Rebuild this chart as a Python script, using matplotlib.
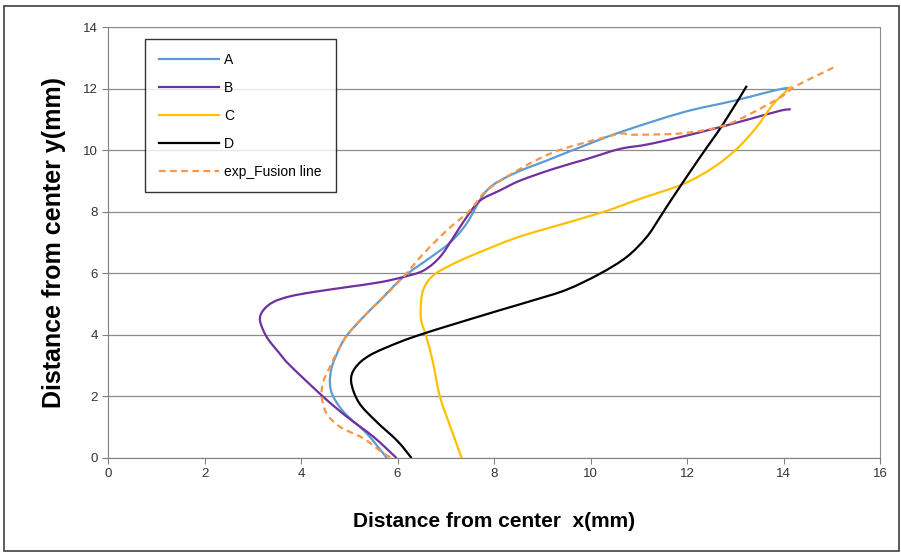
import matplotlib.pyplot as plt
from matplotlib.patches import Rectangle, PathPatch
from matplotlib.path import Path
from matplotlib.lines import Line2D

# series (x, y in mm)
a_x = [5.78, 5.36, 4.91, 4.67, 4.60, 4.64, 4.81, 4.98, 5.36, 5.64, 6.12, 6.67, 7.09, 7.43, 7.85, 8.40,
       9.09, 9.78, 10.61, 11.92, 12.96, 13.93, 14.15]
a_y = [0.0, 0.80, 1.45, 1.99, 2.42, 2.96, 3.61, 4.04, 4.69, 5.12, 5.88, 6.50, 7.00, 7.61, 8.69, 9.23,
       9.66, 10.09, 10.58, 11.23, 11.60, 11.98, 12.0]

b_x = [5.98, 5.50, 4.95, 4.46, 3.77, 3.56, 3.29, 3.15, 3.22, 3.43, 3.77, 4.25, 4.95, 5.64, 6.12, 6.54,
       6.88, 7.16, 7.43, 7.71, 8.12, 8.54, 9.23, 9.92, 10.61, 11.23, 12.27, 13.30, 13.93, 14.15]
b_y = [0.0, 0.69, 1.34, 1.99, 3.01, 3.39, 3.93, 4.47, 4.80, 5.07, 5.25, 5.39, 5.55, 5.71, 5.88, 6.09,
       6.53, 7.17, 7.82, 8.36, 8.69, 9.01, 9.39, 9.71, 10.04, 10.20, 10.58, 11.01, 11.28, 11.33]

c_x = [7.33, 7.12, 6.88, 6.74, 6.60, 6.50, 6.48, 6.53, 6.74, 7.16, 7.71, 8.40, 8.95, 10.20, 11.03,
       11.92, 12.55, 13.03, 13.44, 13.79, 14.17]
c_y = [0.0, 0.91, 1.99, 3.07, 3.93, 4.40, 4.80, 5.45, 5.93, 6.31, 6.69, 7.12, 7.39, 7.96, 8.42,
       8.90, 9.44, 10.04, 10.74, 11.50, 12.08]

d_x = [6.29, 6.00, 5.55, 5.20, 5.04, 5.12, 5.43, 6.05, 6.54, 7.09, 8.12, 8.81, 9.51, 10.20, 10.75,
       11.16, 11.44, 11.70, 12.27, 12.75, 13.24]
d_y = [0.0, 0.55, 1.20, 1.80, 2.47, 2.92, 3.34, 3.77, 4.04, 4.31, 4.80, 5.12, 5.47, 5.99, 6.53,
       7.17, 7.82, 8.45, 9.77, 10.85, 12.09]

exp_x = [5.85, 5.71, 5.29, 4.81, 4.53, 4.43, 4.46, 4.60, 4.77, 4.98, 5.36, 5.64, 6.12, 6.54, 7.02,
         7.50, 7.85, 8.54, 9.23, 9.92, 10.61, 10.89, 11.92, 12.75, 13.30, 13.93, 14.27, 15.03]
exp_y = [0.03, 0.15, 0.64, 1.01, 1.45, 1.99, 2.47, 2.96, 3.50, 4.04, 4.69, 5.12, 5.88, 6.64, 7.39,
         8.04, 8.69, 9.39, 9.93, 10.26, 10.53, 10.50, 10.55, 10.79, 11.17, 11.71, 12.09, 12.68]

labels = ['A', 'B', 'C', 'D', 'exp_Fusion line']
x_ticks = [0, 2, 4, 6, 8, 10, 12, 14, 16]
y_ticks = [0, 2, 4, 6, 8, 10, 12, 14]


def smooth_path(xs, ys):
    # Excel-style smoothed line: cubic bezier segments through every point
    pts = list(zip(xs, ys))
    verts = [pts[0]]
    codes = [Path.MOVETO]
    n = len(pts)
    for i in range(n - 1):
        p0 = pts[i - 1] if i > 0 else pts[i]
        p1 = pts[i]
        p2 = pts[i + 1]
        p3 = pts[i + 2] if i + 2 < n else pts[i + 1]
        c1 = (p1[0] + (p2[0] - p0[0]) / 6, p1[1] + (p2[1] - p0[1]) / 6)
        c2 = (p2[0] - (p3[0] - p1[0]) / 6, p2[1] - (p3[1] - p1[1]) / 6)
        verts += [c1, c2, p2]
        codes += [Path.CURVE4] * 3
    return Path(verts, codes)


plt.rcParams['font.family'] = ['Liberation Sans', 'DejaVu Sans']

fig = plt.figure(figsize=(9.01, 5.56), dpi=100)
# outer chart border
fig.patches.append(Rectangle((0.004, 0.009), 0.994, 0.981, transform=fig.transFigure,
                             fill=False, edgecolor='#404040', linewidth=1.2))

ax = fig.add_axes([108 / 901, 98 / 556, 772 / 901, 431 / 556])

series = [
    (a_x, a_y, '#5B9BD5', '-'),
    (b_x, b_y, '#7030A0', '-'),
    (c_x, c_y, '#FFC000', '-'),
    (d_x, d_y, 'black', '-'),
    (exp_x, exp_y, '#F79646', (0, (3, 2))),
]
handles = []
for (xs, ys, col, ls), lab in zip(series, labels):
    ax.add_patch(PathPatch(smooth_path(xs, ys), facecolor='none', edgecolor=col, lw=1.6,
                           linestyle=ls, capstyle='butt'))
    handles.append(Line2D([0], [0], color=col, lw=1.6, linestyle=ls, label=lab))

ax.set_xlim(0, 16)
ax.set_ylim(0, 14)
ax.set_xticks(x_ticks)
ax.set_yticks(y_ticks)
ax.tick_params(direction='out', length=4, width=0.8, color='#808080', labelsize=9.5,
               labelcolor='#333333')
ax.yaxis.grid(True, color='#8C8C8C', lw=0.9)
ax.set_axisbelow(True)
for side in ['top', 'right']:
    ax.spines[side].set_color('#8C8C8C')
ax.spines['left'].set_color('#808080')
ax.spines['bottom'].set_color('#808080')

ax.set_xlabel('Distance from center  x(mm)', fontsize=15, fontweight='bold', labelpad=23)
ax.set_ylabel('Distance from center y(mm)', fontsize=18, fontweight='bold', labelpad=12)

leg = ax.legend(handles=handles, loc='upper left', bbox_to_anchor=(0.048, 0.972), fontsize=10,
                frameon=True, fancybox=False, edgecolor='black', handlelength=4.3,
                labelspacing=1.0, borderpad=1.0, handletextpad=0.4, borderaxespad=0)
leg.get_frame().set_linewidth(1.0)

plt.savefig('out.png', dpi=100)
